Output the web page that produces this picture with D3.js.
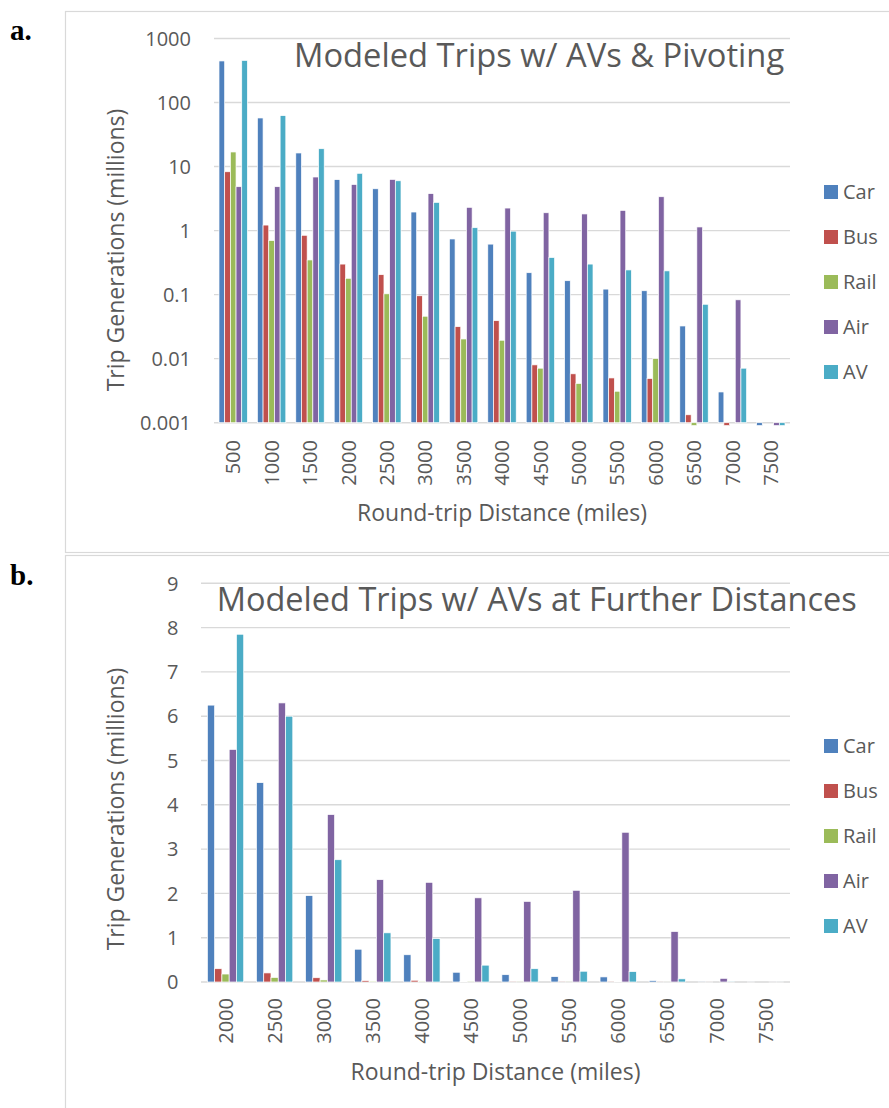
<!DOCTYPE html>
<html><head><meta charset="utf-8">
<script src="https://cdn.jsdelivr.net/npm/d3@7"></script>
<style>
html,body{margin:0;padding:0;background:#fff;}
svg{display:block;}
text{font-family:"Open Sans",sans-serif;fill:#595959;}
</style></head>
<body>
<svg id="c" width="889" height="1108"></svg>
<script>
// ---- data ----
const categories = [500,1000,1500,2000,2500,3000,3500,4000,4500,5000,5500,6000,6500,7000,7500];
const seriesNames = ["Car","Bus","Rail","Air","AV"];
const car  = [446, 57.4, 16.3, 6.25, 4.5, 1.95, 0.74, 0.615, 0.22, 0.165, 0.122, 0.115, 0.0324, 0.00302, 0.0009];
const bus  = [8.3, 1.22, 0.845, 0.30, 0.205, 0.096, 0.0316, 0.0392, 0.008, 0.0058, 0.005, 0.0049, 0.00133, 0.0009, null];
const rail = [16.9, 0.70, 0.348, 0.18, 0.103, 0.046, 0.0203, 0.0194, 0.0071, 0.0041, 0.0031, 0.0101, 0.0009, null, null];
const air  = [4.85, 4.85, 6.87, 5.25, 6.3, 3.78, 2.31, 2.25, 1.9, 1.82, 2.07, 3.38, 1.14, 0.083, 0.0009];
const av   = [455, 62.4, 19.0, 7.85, 6.0, 2.76, 1.11, 0.98, 0.38, 0.30, 0.243, 0.235, 0.0707, 0.0071, 0.0009];
const logTicks = [0.001, 0.01, 0.1, 1, 10, 100, 1000];
const linTicks = [0,1,2,3,4,5,6,7,8,9];
const titleA = "Modeled Trips w/ AVs & Pivoting";
const titleB = "Modeled Trips w/ AVs at Further Distances";
const yTitle = "Trip Generations (millions)";
const xTitle = "Round-trip Distance (miles)";
const colors = ["#4F81BD","#C0504D","#9BBB59","#8064A2","#4BACC6"];

const seriesVals = [car,bus,rail,air,av];
const svg = d3.select("#c");
const grid = "#d9d9d9";

// panel borders
svg.append("rect").attr("x",65.5).attr("y",11.5).attr("width",900).attr("height",541).attr("fill","none").attr("stroke",grid).attr("stroke-width",1.2);
svg.append("rect").attr("x",65.5).attr("y",555.5).attr("width",900).attr("height",600).attr("fill","none").attr("stroke",grid).attr("stroke-width",1.2);

svg.append("text").attr("x",10).attr("y",40).text("a.").style("font-family","'Liberation Serif',serif").style("font-weight","bold").style("font-size","29px").style("fill","#000");
svg.append("text").attr("x",10).attr("y",585).text("b.").style("font-family","'Liberation Serif',serif").style("font-weight","bold").style("font-size","29px").style("fill","#000");

function panel(opt){
  const g = svg.append("g");
  const cats = opt.cats;
  const x = d3.scaleBand().domain(cats).range([opt.x0,opt.x1]).paddingInner(0.26).paddingOuter(0.13);
  const xs = d3.scaleBand().domain(seriesNames).range([0,x.bandwidth()]).padding(0);
  const y = opt.y;
  // gridlines
  g.append("g").selectAll("line").data(opt.ticks).join("line")
    .attr("x1",opt.x0).attr("x2",opt.x1)
    .attr("y1",d=>y(d)).attr("y2",d=>y(d))
    .attr("stroke",grid).attr("stroke-width",1.4);
  // y tick labels
  g.append("g").selectAll("text").data(opt.ticks).join("text")
    .attr("x",opt.yLabelX).attr("y",d=>y(d)).attr("dy","0.36em")
    .attr("text-anchor","end").style("font-size","20px")
    .text(d=>opt.fmt(d));
  // bars
  const base = y(opt.base);
  seriesNames.forEach((s,si)=>{
    const vals = opt.vals[si];
    g.append("g").selectAll("rect").data(cats.map((c,i)=>({c,v:vals[i]})).filter(d=>d.v!=null)).join("rect")
      .attr("x",d=>x(d.c)+xs(s))
      .attr("width",xs.bandwidth())
      .attr("y",d=>Math.min(base,y(d.v)))
      .attr("height",d=>Math.abs(y(d.v)-base))
      .attr("fill",colors[si])
      .attr("stroke","#fff").attr("stroke-width",0.7);
  });
  // x tick labels
  g.append("g").selectAll("text").data(cats).join("text")
    .attr("transform",d=>`translate(${x(d)+x.bandwidth()/2},${opt.xLabelY}) rotate(-90)`)
    .attr("dy","0.36em").attr("text-anchor","end").style("font-size","20px")
    .text(d=>d);
  // title
  g.append("text").attr("x",opt.titleX).attr("y",opt.titleY).style("font-size",opt.titleSize+"px").text(opt.title);
  // axis titles
  g.append("text").attr("x",(opt.x0+opt.x1)/2).attr("y",opt.xTitleY).attr("text-anchor","middle").style("font-size","23px").text(xTitle);
  g.append("text").attr("transform",`translate(123.5,${opt.yTitleC}) rotate(-90)`).attr("text-anchor","middle").style("font-size","23px").text(yTitle);
  // legend
  const lg = g.append("g").selectAll("g").data(seriesNames).join("g")
    .attr("transform",(d,i)=>`translate(824,${opt.legY+i*45})`);
  lg.append("rect").attr("width",14).attr("height",14).attr("fill",(d,i)=>colors[i]);
  lg.append("text").attr("x",19).attr("y",14).style("font-size",  "20px").text(d=>d);
}

// Panel a (log)
const yA = d3.scaleLog().domain([0.001,1000]).range([422.7,38.5]);
panel({cats:categories, vals:seriesVals, x0:214, x1:790, y:yA, ticks:logTicks, base:0.001,
  fmt:d=>String(d), yLabelX:191, xLabelY:440, title:titleA, titleX:294, titleY:66.7, titleSize:32.7,
  xTitleY:521, yTitleC:250, legY:185});

// Panel b (linear, from 2000)
const start = categories.indexOf(2000);
const yB = d3.scaleLinear().domain([0,9]).range([982,583.3]);
panel({cats:categories.slice(start), vals:seriesVals.map(a=>a.slice(start).map(v=>v==null?null:v)), x0:201, x1:790, y:yB, ticks:linTicks, base:0,
  fmt:d=>String(d), yLabelX:178.5, xLabelY:998, title:titleB, titleX:216.7, titleY:611, titleSize:32.5,
  xTitleY:1080, yTitleC:809, legY:739});
</script>
</body></html>
